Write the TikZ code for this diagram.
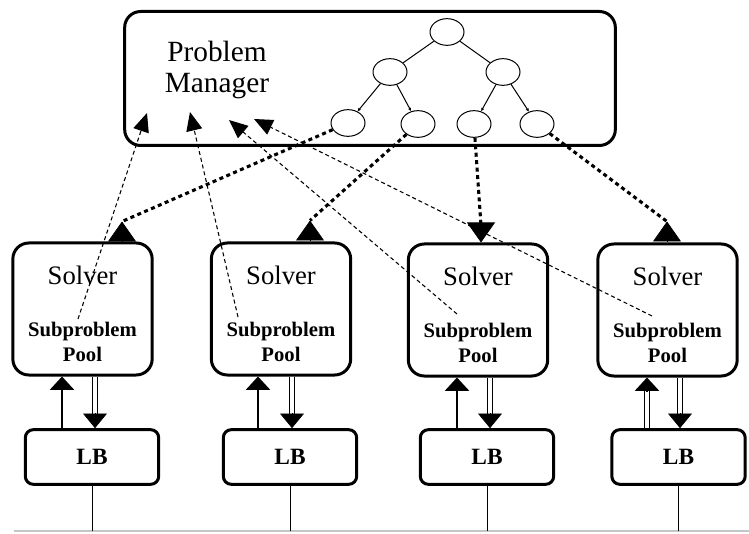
\documentclass[tikz,border=0pt]{standalone}
\usepackage{fontspec}
\setmainfont{Liberation Serif}
\usetikzlibrary{arrows.meta,calc,shapes.geometric}
\begin{document}
\begin{tikzpicture}[x=0.75pt,y=-0.75pt,
  bigbox/.style={draw, line width=2.25pt, rounded corners=12pt, inner sep=0pt},
  pmbox/.style={bigbox, minimum width=368pt, minimum height=100.5pt},
  solverbox/.style={bigbox, minimum width=104.5pt, minimum height=99pt},
  lbbox/.style={draw, line width=2.25pt, rounded corners=6pt, minimum width=100pt, minimum height=41pt, inner sep=0pt, font=\fontsize{17.5}{19}\selectfont\bfseries},
  treenode/.style={ellipse, draw, line width=0.75pt, minimum width=25.5pt, minimum height=20pt, inner sep=0pt},
  treeedge/.style={line width=0.75pt},
  leafedge/.style={line width=0.75pt, -{Latex[length=2.5pt,width=2.5pt]}},
  soltxt/.style={anchor=base, font=\fontsize{20}{22}\selectfont, inner sep=0pt},
  pooltxt/.style={anchor=base, font=\fontsize{15.5}{17}\selectfont\bfseries, inner sep=0pt},
  pmtxt/.style={anchor=base, font=\fontsize{22}{24}\selectfont, inner sep=0pt},
  thindash/.style={line width=0.8pt, dash pattern=on 3pt off 2.2pt, -{Triangle[width=12pt,length=14pt]}},
  thickdot/.style={line width=2.3pt, dash pattern=on 3pt off 2.6pt},
  bighead/.style={line width=0.5pt, -{Triangle[width=21pt,length=15pt]}},
  uparrow/.style={line width=1.5pt, -{Triangle[width=18pt,length=10pt]}},
  dblline/.style={double, double distance=2.6pt, line width=0.9pt, shorten >=10pt},
  dbltip/.style={line width=0.5pt, -{Triangle[width=18pt,length=11pt]}},
  vline/.style={line width=0.75pt},
  baseline/.style={draw=gray!45, line width=0.8pt}
]
\useasboundingbox (0,0) rectangle (749,534);

% Problem manager
\node[pmbox] (pm) at (370,78.5) {};
\node[pmtxt] (pmt1) at (217,62) {Problem};
\node[pmtxt] (pmt2) at (217,93) {Manager};

% tree
\node[treenode] (t0) at (447,32) {};
\node[treenode] (t1) at (390,72) {};
\node[treenode] (t2) at (503,72) {};
\node[treenode] (t3) at (348,123) {};
\node[treenode] (t4) at (418,124) {};
\node[treenode] (t5) at (474,124) {};
\node[treenode] (t6) at (537,124) {};
\draw[treeedge] (t0) -- (t1);
\draw[treeedge] (t0) -- (t2);
\draw[leafedge] (t1) -- (t3);
\draw[leafedge] (t1) -- (t4);
\draw[leafedge] (t2) -- (t5);
\draw[leafedge] (t2) -- (t6);

% solvers
\node[solverbox] (s1) at (82.5,309) {};
\node[solverbox] (s2) at (281,309) {};
\node[solverbox] (s3) at (478,310) {};
\node[solverbox] (s4) at (667.5,310) {};
\foreach \s in {s1,s2,s3,s4}{
  \node[soltxt] (\s a) at ($(\s.north)+(0,43)$) {Solver};
  \node[pooltxt] (\s b) at ($(\s.north)+(0,95)$) {Subproblem};
  \node[pooltxt] (\s c) at ($(\s.north)+(0,120)$) {Pool};
}

% LB boxes
\node[lbbox] (l1) at (92,457) {LB};
\node[lbbox] (l2) at (290,457) {LB};
\node[lbbox] (l3) at (487,457) {LB};
\node[lbbox] (l4) at (678.5,457) {LB};

% bottom line
\coordinate (bl) at (14,531);
\coordinate (br) at (749,531);
\draw[baseline] (bl) -- (br);
\foreach \l in {l1,l2,l3,l4}{
  \draw[vline] (\l.south) -- (\l.south |- bl);
}

% solver <-> LB
\draw[uparrow] ($(l1.north)+(-30,0)$) -- ($(s1.south)+(-20.5,0)$);
\draw[dblline] ($(s1.south)+(12.5,0)$) -- ($(l1.north)+(3,0)$);
\draw[dbltip] ($(l1.north)+(3,-15)$) -- ($(l1.north)+(3,0)$);

\draw[uparrow] ($(l2.north)+(-32,0)$) -- ($(s2.south)+(-23,0)$);
\draw[dblline] ($(s2.south)+(11,0)$) -- ($(l2.north)+(2,0)$);
\draw[dbltip] ($(l2.north)+(2,-15)$) -- ($(l2.north)+(2,0)$);

\draw[uparrow] ($(l3.north)+(-30,0)$) -- ($(s3.south)+(-21,0)$);
\draw[dblline] ($(s3.south)+(12,0)$) -- ($(l3.north)+(3,0)$);
\draw[dbltip] ($(l3.north)+(3,-15)$) -- ($(l3.north)+(3,0)$);

\draw[dblline] ($(l4.north)+(-31.5,0)$) -- ($(s4.south)+(-20.5,0)$);
\draw[uparrow] ($(s4.south)+(-20.5,14)$) -- ($(s4.south)+(-20.5,0)$);
\draw[dblline] ($(s4.south)+(12.5,0)$) -- ($(l4.north)+(1.5,0)$);
\draw[dbltip] ($(l4.north)+(1.5,-15)$) -- ($(l4.north)+(1.5,0)$);

% thick dotted arrows PM -> solvers
\coordinate (b1) at ($(s1.north)+(39.5,0)$);
\coordinate (a1) at ($(s1.north)+(39.5,-20)$);
\coordinate (b2) at ($(s2.north)+(29,0)$);
\coordinate (a2) at ($(s2.north)+(29,-21)$);
\coordinate (b3) at ($(s3.north)+(3,-17)$);
\coordinate (a3) at ($(s3.north)+(3,0)$);
\coordinate (b4) at ($(s4.north)+(-0.5,0)$);
\coordinate (a4) at ($(s4.north)+(-0.5,-21)$);
\draw[thickdot] (t3) -- (a1);
\draw[thickdot] (t4) -- (a2);
\draw[thickdot] (t5) -- (b3);
\draw[thickdot] (t6) -- (a4);
\draw[bighead] (b1) -- (a1);
\draw[bighead] (b2) -- (a2);
\draw[bighead] (b3) -- (a3);
\draw[bighead] (b4) -- (a4);

% thin dashed arrows solvers -> PM
\coordinate (p1) at ($(s1.center)+(-4.5,10)$);
\coordinate (p2) at ($(s2.center)+(-43,8)$);
\coordinate (p3) at ($(s3.center)+(-21,4)$);
\coordinate (p4) at ($(s4.center)+(-15.5,6)$);
\coordinate (m1) at ($(pm.center)+(-223,34.5)$);
\coordinate (m2) at ($(pm.center)+(-180,33.5)$);
\coordinate (m3) at ($(pm.center)+(-141,41.5)$);
\coordinate (m4) at ($(pm.center)+(-116,40.5)$);
\draw[thindash] (p1) -- (m1);
\draw[thindash] (p2) -- (m2);
\draw[thindash] (p3) -- (m3);
\draw[thindash] (p4) -- (m4);
\end{tikzpicture}
\end{document}
